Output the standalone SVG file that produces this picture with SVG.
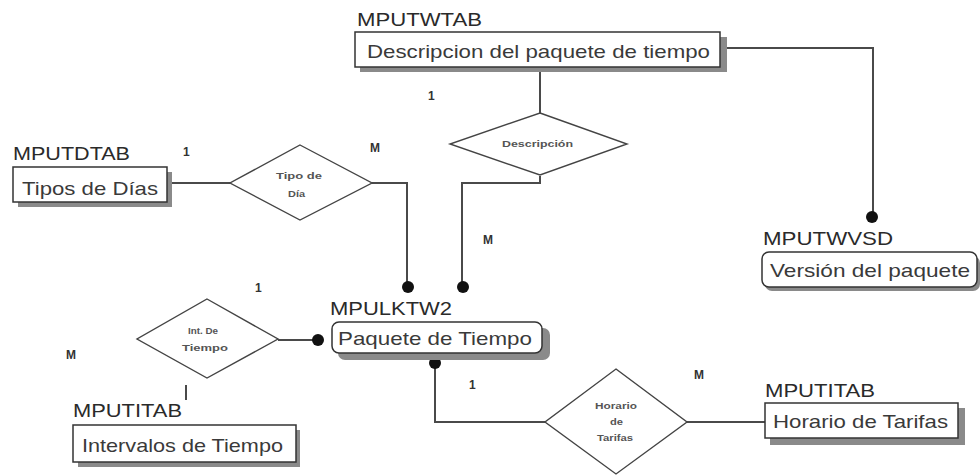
<svg xmlns="http://www.w3.org/2000/svg" width="980" height="475" viewBox="0 0 980 475">
  <style>
    .bg { fill: #ffffff; }
    .box { fill: #ffffff; stroke: #333333; stroke-width: 1.5; }
    .shadow { fill: #8a8a8a; }
    .rel { fill: #ffffff; stroke: #444444; stroke-width: 1.4; }
    .line { fill: none; stroke: #4a4a4a; stroke-width: 2; }
    .dot { fill: #111111; }
    .tbl { font-family: "Liberation Sans", Arial, sans-serif; font-size: 19px; fill: #3a3a3a; }
    .name { font-family: "Liberation Sans", Arial, sans-serif; font-size: 19px; fill: #2a2a2a; }
    .rtxt { font-family: "Liberation Sans", Arial, sans-serif; font-size: 9px; font-weight: bold; fill: #555555; }
    .card { font-family: "Liberation Sans", Arial, sans-serif; font-size: 12px; font-weight: bold; fill: #333333; }
  </style>
  <rect class="bg" x="0" y="0" width="980" height="475"/>

  <g id="connectors">
    <!-- Descripcion -> Version -->
    <polyline class="line" points="725,48 873,48 873,213"/>
    <circle class="dot" cx="872" cy="217" r="6"/>
    <!-- Descripcion -> Descripción diamond -->
    <line class="line" x1="540" y1="72" x2="540" y2="113"/>
    <!-- Descripción diamond -> Paquete -->
    <polyline class="line" points="540,176 540,183 462,183 462,283"/>
    <circle class="dot" cx="463" cy="287" r="6"/>
    <!-- Tipos de Días -> diamond -> Paquete -->
    <line class="line" x1="172" y1="183" x2="230" y2="183"/>
    <polyline class="line" points="372,183 407,183 407,283"/>
    <circle class="dot" cx="408" cy="287" r="6"/>
    <!-- Int. De Tiempo -> Paquete -->
    <line class="line" x1="278" y1="340" x2="314" y2="340"/>
    <circle class="dot" cx="318" cy="340" r="6"/>
    <line class="line" x1="186" y1="385" x2="186" y2="400"/>
    <!-- Paquete -> Horario diamond -> Horario de Tarifas -->
    <polyline class="line" points="435,366 435,422 545,422"/>
    <circle class="dot" cx="435" cy="363" r="6"/>
    <line class="line" x1="687" y1="422" x2="765" y2="422"/>
  </g>

  <g id="cardinalities">
    <text class="card" x="428" y="100">1</text>
    <text class="card" x="183" y="156">1</text>
    <text class="card" x="370" y="152">M</text>
    <text class="card" x="483" y="244">M</text>
    <text class="card" x="255" y="292">1</text>
    <text class="card" x="66" y="359">M</text>
    <text class="card" x="469" y="389">1</text>
    <text class="card" x="694" y="379">M</text>
  </g>

  <g id="MPUTWTAB">
    <rect class="shadow" x="360" y="37" width="367" height="35"/>
    <rect class="box" x="355" y="32" width="365" height="35"/>
    <text class="name" x="357" y="26" textLength="125" lengthAdjust="spacingAndGlyphs">MPUTWTAB</text>
    <text class="tbl" x="367" y="58" textLength="343" lengthAdjust="spacingAndGlyphs">Descripcion del paquete de tiempo</text>
  </g>

  <g id="MPUTDTAB">
    <rect class="shadow" x="18" y="172" width="154" height="35"/>
    <rect class="box" x="13" y="167" width="154" height="35"/>
    <text class="name" x="13" y="160" textLength="117" lengthAdjust="spacingAndGlyphs">MPUTDTAB</text>
    <text class="tbl" x="22" y="195" textLength="136" lengthAdjust="spacingAndGlyphs">Tipos de Días</text>
  </g>

  <g id="MPUTWVSD">
    <rect class="shadow" x="765" y="256" width="215" height="35" rx="7"/>
    <rect class="box" x="762" y="252" width="215" height="35" rx="7"/>
    <text class="name" x="763" y="245" textLength="130" lengthAdjust="spacingAndGlyphs">MPUTWVSD</text>
    <text class="tbl" x="770" y="277" textLength="200" lengthAdjust="spacingAndGlyphs">Versión del paquete</text>
  </g>

  <g id="MPULKTW2">
    <rect class="shadow" x="338" y="328" width="212" height="32" rx="7"/>
    <rect class="box" x="332" y="322" width="210" height="31" rx="7"/>
    <text class="name" x="330" y="315" textLength="122" lengthAdjust="spacingAndGlyphs">MPULKTW2</text>
    <text class="tbl" x="338" y="345" textLength="194" lengthAdjust="spacingAndGlyphs">Paquete de Tiempo</text>
  </g>

  <g id="MPUTITAB-intervalos">
    <rect class="shadow" x="78" y="430" width="222" height="37"/>
    <rect class="box" x="73" y="425" width="223" height="37"/>
    <text class="name" x="73" y="417" textLength="109" lengthAdjust="spacingAndGlyphs">MPUTITAB</text>
    <text class="tbl" x="82" y="452" textLength="201" lengthAdjust="spacingAndGlyphs">Intervalos de Tiempo</text>
  </g>

  <g id="MPUTITAB-horario">
    <rect class="shadow" x="770" y="408" width="195" height="37"/>
    <rect class="box" x="765" y="403" width="193" height="35"/>
    <text class="name" x="765" y="397" textLength="110" lengthAdjust="spacingAndGlyphs">MPUTITAB</text>
    <text class="tbl" x="773" y="428" textLength="175" lengthAdjust="spacingAndGlyphs">Horario de Tarifas</text>
  </g>

  <g id="rel-descripcion">
    <polygon class="rel" points="540,113 627,144 540,175 450,144"/>
    <text class="rtxt" x="502" y="147" textLength="71" lengthAdjust="spacingAndGlyphs">Descripción</text>
  </g>

  <g id="rel-tipo-dia">
    <polygon class="rel" points="300,145 372,183 300,220 230,183"/>
    <text class="rtxt" x="276" y="179" textLength="46" lengthAdjust="spacingAndGlyphs">Tipo de</text>
    <text class="rtxt" x="288" y="197" textLength="17" lengthAdjust="spacingAndGlyphs">Día</text>
  </g>

  <g id="rel-int-tiempo">
    <polygon class="rel" points="207,299 278,339 207,378 137,339"/>
    <text class="rtxt" x="188" y="334" textLength="30" lengthAdjust="spacingAndGlyphs">Int. De</text>
    <text class="rtxt" x="182" y="351" textLength="46" lengthAdjust="spacingAndGlyphs">Tiempo</text>
  </g>

  <g id="rel-horario">
    <polygon class="rel" points="616,369 687,422 616,474 545,422"/>
    <text class="rtxt" x="595" y="409" textLength="42" lengthAdjust="spacingAndGlyphs">Horario</text>
    <text class="rtxt" x="610" y="425" textLength="13" lengthAdjust="spacingAndGlyphs">de</text>
    <text class="rtxt" x="597" y="441" textLength="36" lengthAdjust="spacingAndGlyphs">Tarifas</text>
  </g>
</svg>
